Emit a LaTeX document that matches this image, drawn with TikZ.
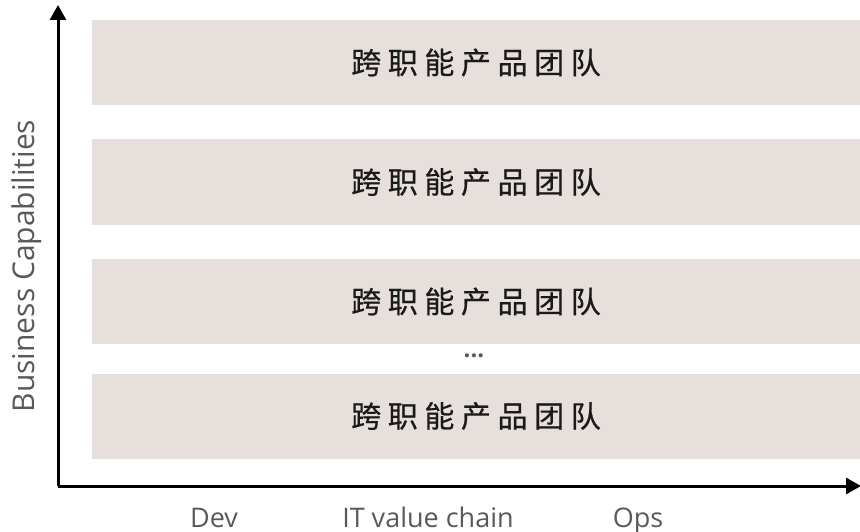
\documentclass[tikz,border=0pt]{standalone}
\usepackage{fontspec}
\usepackage{tikz}
\usetikzlibrary{arrows.meta}
\setmainfont{Open Sans}
\newfontfamily\cjk[LetterSpace=22, FakeBold=0.6]{Noto Sans CJK SC}
\definecolor{bandfill}{HTML}{E7DFDC}
\definecolor{labelgray}{HTML}{595959}
\definecolor{bandtext}{HTML}{1A1A1A}
\begin{document}
\begin{tikzpicture}[x=1pt, y=-1pt]
\tikzset{band/.style={fill=bandfill, text=bandtext, inner sep=0pt, minimum width=768pt, minimum height=85pt, font=\cjk\fontsize{30}{34}\selectfont}}
\tikzset{axis label/.style={text=labelgray, font=\fontsize{27}{30}\selectfont}}
\tikzset{axis/.style={line width=3pt, -{Triangle[length=15pt, width=16pt]}}}
\useasboundingbox (0,0) rectangle (860,532);
%\fill[white] (0,0) rectangle (860,532);
\foreach \i/\y in {1/62.5, 2/182, 3/301.5, 4/416}
  \node[band] (band\i) at (476,\y) {跨职能产品团队};
\node[text=labelgray, font=\bfseries\fontsize{24}{26}\selectfont] (dots) at (474,356) {...};
\coordinate (origin) at (58,486);
\coordinate (ytip) at (58,5);
\coordinate (xtip) at (861,486);
\draw[axis] (origin) -- (ytip);
\draw[axis] (origin) -- (xtip);
\node[axis label, rotate=90, font=\fontsize{30}{32}\selectfont] (ylabel) at (27,266) {Business Capabilities};
\node[axis label, anchor=base] (dev) at (214,527) {Dev};
\node[axis label, anchor=base] (chain) at (428,527) {IT value chain};
\node[axis label, anchor=base] (ops) at (638,527) {Ops};
\end{tikzpicture}
\end{document}
